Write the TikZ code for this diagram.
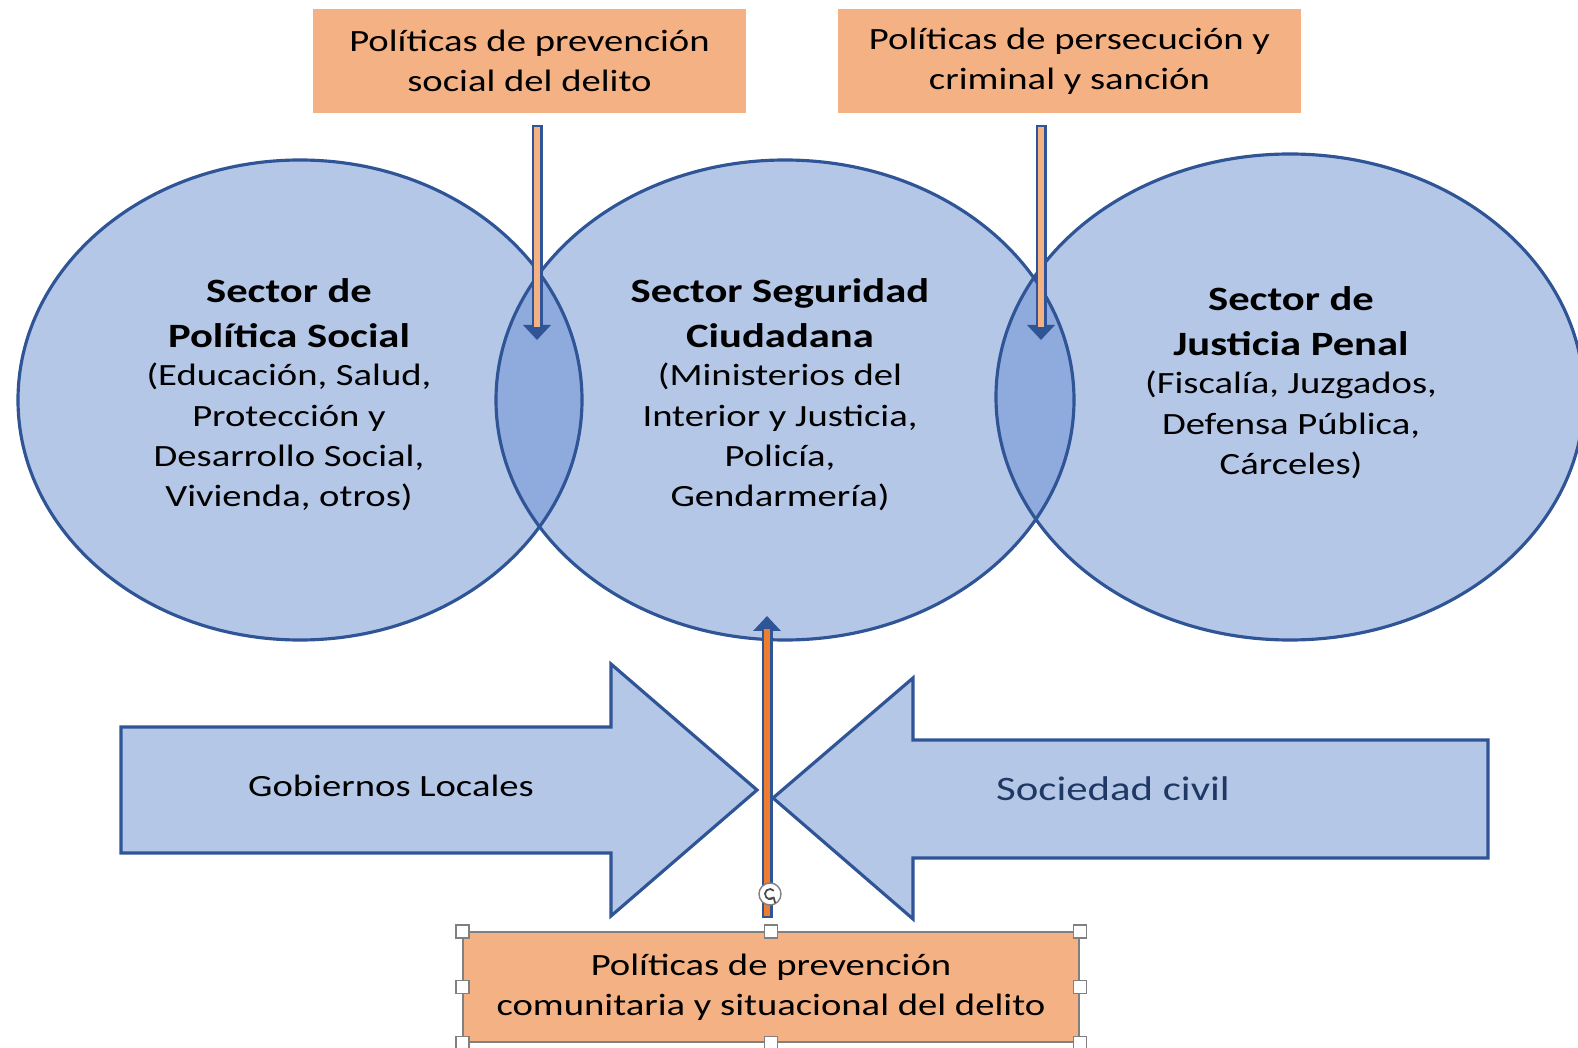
\documentclass[tikz,border=0pt]{standalone}
\usepackage{fontspec}
\setmainfont{Carlito}[FakeStretch=1.25]
\usetikzlibrary{shapes.geometric, arrows.meta, positioning}
\definecolor{sectorfill}{HTML}{B4C7E7}
\definecolor{overlapfill}{HTML}{8FAADC}
\definecolor{sectorline}{HTML}{2F5597}
\definecolor{policyfill}{HTML}{F4B183}
\definecolor{upfill}{HTML}{ED7D31}
\definecolor{civiltext}{HTML}{1F3864}
\newcommand{\regtext}{\fontsize{8.8}{11.46}\selectfont}
\newcommand{\sectortitle}{\bfseries\fontsize{9.7}{12.75}\selectfont}
\newcommand{\civiltxt}{\fontsize{9.75}{12}\selectfont}
\tikzset{
	sector/.style={fill=sectorfill},
	sectoredge/.style={draw=sectorline, line width=0.9pt},
	policy/.style={fill=policyfill, align=center, font=\regtext, inner sep=0pt},
	title/.style={align=center, font=\sectortitle, inner sep=0pt},
	detail/.style={align=center, font=\regtext, inner sep=0pt},
	bigarrow/.style={fill=sectorfill, draw=sectorline, line width=0.9pt, line join=miter},
	thinarrow/.style={draw=sectorline, line width=0.11cm, -{Triangle[width=0.27cm, length=0.15cm]},
		postaction={draw=#1, line width=0.055cm, -, shorten >=0.13cm, shorten <=0.025cm}},
	handle/.style={draw=gray, fill=white, line width=0.4pt, minimum size=0.13cm, inner sep=0pt}
}

\begin{document}
\begin{tikzpicture}
	\useasboundingbox (0,0) rectangle (15.78,-10.48);
	
	% Sectors
	\fill[sector] (3.00,-4.00) ellipse [x radius=2.82, y radius=2.40];
	\fill[sector] (7.85,-4.00) ellipse [x radius=2.89, y radius=2.40];
	\fill[sector] (12.90,-3.97) ellipse [x radius=2.94, y radius=2.43];
	
	% Overlaps
	\begin{scope}
		\clip (3.00,-4.00) ellipse [x radius=2.82, y radius=2.40];
		\fill[overlapfill] (7.85,-4.00) ellipse [x radius=2.89, y radius=2.40];
	\end{scope}
	\begin{scope}
		\clip (7.85,-4.00) ellipse [x radius=2.89, y radius=2.40];
		\fill[overlapfill] (12.90,-3.97) ellipse [x radius=2.94, y radius=2.43];
	\end{scope}
	
	\draw[sectoredge] (3.00,-4.00) ellipse [x radius=2.82, y radius=2.40];
	\draw[sectoredge] (7.85,-4.00) ellipse [x radius=2.89, y radius=2.40];
	\draw[sectoredge] (12.90,-3.97) ellipse [x radius=2.94, y radius=2.43];
	
	% Sector texts
	\node[title] (socialtitle) at (2.89,-3.13) {Sector de\\Política Social};
	\node[detail] (socialdetail) at (2.89,-4.37) {(Educación, Salud,\\Protección y\\Desarrollo Social,\\Vivienda, otros)};
	\node[title] (seguridadtitle) at (7.80,-3.13) {Sector Seguridad\\Ciudadana};
	\node[detail] (seguridaddetail) at (7.80,-4.37) {(Ministerios del\\Interior y Justicia,\\Policía,\\Gendarmería)};
	\node[title] (justiciatitle) at (12.91,-3.21) {Sector de\\Justicia Penal};
	\node[detail] (justiciadetail) at (12.91,-4.25) {(Fiscalía, Juzgados,\\Defensa Pública,\\Cárceles)};
	
	% Policies
	\node[policy, minimum width=4.33cm, minimum height=1.04cm] (prevsocial) at (5.295,-0.61) {Políticas de prevención\\social del delito};
	\node[policy, minimum width=4.63cm, minimum height=1.04cm] (persecucion) at (10.695,-0.61) {Políticas de persecución y\\criminal y sanción};
	
	% Actors
	\draw[bigarrow] (1.21,-7.27) -- (6.11,-7.27) -- (6.11,-6.64) -- (7.57,-7.90) -- (6.11,-9.16) -- (6.11,-8.53) -- (1.21,-8.53) -- cycle;
	\node[font=\regtext] (locales) at (3.91,-7.86) {Gobiernos Locales};
	\draw[bigarrow] (14.88,-7.40) -- (9.13,-7.40) -- (9.13,-6.78) -- (7.73,-7.98) -- (9.13,-9.19) -- (9.13,-8.58) -- (14.88,-8.58) -- cycle;
	\node[font=\civiltxt, text=civiltext] (civil) at (11.13,-7.89) {Sociedad civil};
	
	\node[policy, draw=gray, line width=0.4pt, minimum width=6.16cm, minimum height=1.10cm] (prevcomunitaria) at (7.71,-9.87) {Políticas de prevención\\comunitaria y situacional del delito};
	
	% Arrows
	\coordinate (tipsocial) at (5.37,-3.40);
	\coordinate (tippenal) at (10.41,-3.40);
	\coordinate (tipseguridad) at (7.67,-6.16);
	\draw[thinarrow=policyfill] ([yshift=-0.11cm]prevsocial.south -| tipsocial) -- (tipsocial);
	\draw[thinarrow=policyfill] ([yshift=-0.11cm]persecucion.south -| tippenal) -- (tippenal);
	\draw[thinarrow=upfill] ([yshift=0.13cm]prevcomunitaria.north -| tipseguridad) -- (tipseguridad);
	
	% Selection handles
	\foreach \a in {north west, north, north east, west, east, south west, south, south east}
		\node[handle] at (prevcomunitaria.\a) {};
	\node[circle, draw=gray, fill=white, line width=0.4pt, minimum size=0.22cm, inner sep=0pt] (rothandle) at (7.70,-8.94) {};
	\draw[gray!60!black, line width=0.5pt, -{Straight Barb[length=0.4mm]}] ([shift={(40:0.05)}]rothandle.center) arc (40:330:0.05);
\end{tikzpicture}
\end{document}
